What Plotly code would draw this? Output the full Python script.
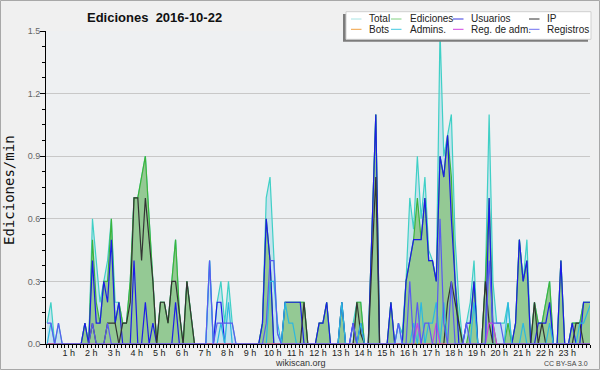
import plotly.graph_objects as go

# ---------------- data (edits per minute, 10-minute bins, 2016-10-22) ----------------
total = [
    0.1, 0.2, 0, 0.1, 0, 0, 0, 0, 0, 0, 0.1, 0,
    0.6, 0.4, 0.2, 0.3, 0.4, 0.6, 0.2, 0.2, 0.1, 0.1, 0.3, 0.7,
    0.7, 0.8, 0.9, 0.6, 0.3, 0, 0.2, 0.2, 0.1, 0.3, 0.5, 0.15,
    0, 0.3, 0.15, 0, 0, 0, 0, 0.4, 0, 0.2, 0.3, 0.1,
    0.3, 0.1, 0, 0, 0, 0, 0, 0, 0, 0.1, 0.7, 0.8,
    0.4, 0.05, 0, 0.2, 0.2, 0.2, 0.2, 0.2, 0.2, 0, 0, 0,
    0.1, 0.1, 0.2, 0, 0, 0, 0.2, 0, 0, 0.1, 0.2, 0.2,
    0, 0, 0.55, 1.1, 0, 0, 0, 0.2, 0, 0.1, 0.05, 0.3,
    0.7, 0.55, 0.9, 0.6, 0.8, 0.45, 0.4, 0.3, 1.5, 0.9, 1.0, 1.1,
    0.5, 0.2, 0, 0.1, 0.2, 0.4, 0, 0, 0.3, 1.1, 0.3, 0.1,
    0.1, 0.1, 0.2, 0, 0.1, 0.5, 0.3, 0.5, 0, 0.2, 0.1, 0.1,
    0.2, 0.3, 0, 0, 0.4, 0, 0, 0.1, 0.1, 0.1, 0.2, 0.2,
    0.2,
]
ediciones = [
    0, 0, 0, 0, 0, 0, 0, 0, 0, 0, 0.1, 0,
    0.5, 0.2, 0.1, 0.3, 0.3, 0.6, 0.1, 0.2, 0.1, 0.1, 0.3, 0.7,
    0.7, 0.8, 0.9, 0.6, 0.3, 0, 0.2, 0.2, 0.1, 0.3, 0.5, 0.15,
    0, 0.3, 0.15, 0, 0, 0, 0, 0, 0, 0, 0, 0,
    0, 0, 0, 0, 0, 0, 0, 0, 0, 0.1, 0.6, 0.4,
    0, 0, 0, 0.2, 0.2, 0.2, 0.2, 0.2, 0.2, 0, 0, 0,
    0.1, 0.1, 0.2, 0, 0, 0, 0.2, 0, 0, 0, 0.2, 0.2,
    0, 0, 0.55, 1.1, 0, 0, 0, 0.2, 0, 0, 0, 0.3,
    0.4, 0.5, 0.7, 0.5, 0.7, 0.4, 0.4, 0.3, 0.9, 0.8, 1.0, 0.8,
    0.3, 0.1, 0, 0, 0.1, 0.3, 0, 0, 0.3, 0.7, 0.1, 0,
    0, 0, 0.1, 0, 0.1, 0.5, 0.3, 0.4, 0, 0.2, 0.1, 0.1,
    0.2, 0.3, 0, 0, 0.4, 0, 0, 0.1, 0.1, 0.1, 0.2, 0.2,
    0.2,
]
usuarios = [
    0, 0, 0, 0, 0, 0, 0, 0, 0, 0, 0.1, 0,
    0.4, 0.1, 0.1, 0.3, 0.2, 0.5, 0.1, 0.2, 0, 0, 0, 0.4,
    0, 0, 0.2, 0, 0.1, 0, 0, 0, 0, 0, 0.2, 0,
    0, 0, 0, 0, 0, 0, 0, 0, 0, 0.2, 0.2, 0,
    0, 0, 0, 0, 0, 0, 0, 0, 0, 0.1, 0.6, 0.4,
    0, 0, 0, 0.2, 0.2, 0.2, 0.2, 0.2, 0, 0, 0, 0,
    0.1, 0.1, 0.2, 0, 0, 0, 0.2, 0, 0, 0.1, 0, 0.1,
    0, 0, 0.55, 1.1, 0, 0, 0, 0.2, 0, 0, 0, 0.3,
    0.4, 0.5, 0.5, 0.5, 0.7, 0.4, 0.4, 0.3, 0.9, 0.8, 1.0, 0.6,
    0.3, 0, 0, 0.1, 0.1, 0.3, 0, 0, 0, 0.7, 0, 0,
    0, 0, 0, 0, 0.1, 0.5, 0.3, 0.4, 0, 0, 0.1, 0.1,
    0.1, 0.2, 0, 0, 0.4, 0, 0, 0.1, 0, 0, 0.2, 0.2,
    0.2,
]
ip = [
    0, 0, 0, 0, 0, 0, 0, 0, 0, 0, 0, 0,
    0.1, 0, 0, 0, 0.1, 0.1, 0.1, 0, 0.1, 0.1, 0.2, 0.7,
    0.7, 0.4, 0.7, 0.5, 0.3, 0, 0.2, 0.2, 0.1, 0.3, 0.3, 0.15,
    0, 0.3, 0.15, 0, 0, 0, 0, 0, 0, 0, 0, 0,
    0, 0, 0, 0, 0, 0, 0, 0, 0, 0, 0, 0,
    0, 0, 0, 0, 0, 0, 0, 0, 0.2, 0, 0, 0,
    0, 0, 0, 0, 0, 0, 0, 0, 0, 0, 0.2, 0.05,
    0, 0, 0.4, 0.8, 0, 0, 0, 0, 0, 0, 0, 0,
    0, 0, 0, 0, 0, 0, 0, 0, 0, 0, 0.2, 0.3,
    0.2, 0.1, 0, 0, 0, 0, 0, 0, 0.3, 0.1, 0, 0,
    0, 0, 0, 0, 0, 0, 0, 0, 0, 0.2, 0, 0.1,
    0, 0, 0, 0, 0, 0, 0, 0, 0.1, 0.1, 0, 0,
    0,
]
bots = [0] * 145
admins = [
    0, 0.1, 0, 0, 0, 0, 0, 0, 0, 0, 0, 0,
    0, 0, 0, 0, 0, 0, 0, 0, 0, 0, 0, 0,
    0, 0, 0, 0, 0, 0, 0, 0, 0, 0, 0, 0,
    0, 0, 0, 0, 0, 0, 0, 0.4, 0, 0, 0.1, 0,
    0.2, 0, 0, 0, 0, 0, 0, 0, 0, 0, 0, 0.3,
    0.3, 0.1, 0, 0.2, 0.1, 0.1, 0, 0, 0, 0, 0, 0,
    0, 0, 0, 0, 0, 0, 0.2, 0, 0, 0, 0, 0.1,
    0, 0, 0, 0, 0, 0, 0, 0, 0, 0.1, 0, 0,
    0, 0.1, 0, 0.2, 0, 0.1, 0.1, 0.2, 0, 0.2, 0, 0,
    0, 0, 0, 0, 0, 0.2, 0, 0, 0, 0, 0, 0,
    0, 0, 0.2, 0, 0, 0, 0.1, 0, 0, 0, 0, 0,
    0, 0.1, 0, 0, 0, 0, 0, 0, 0, 0.1, 0.1, 0.15,
    0.2,
]
reg_adm = [0] * 98 + [0.1, 0, 0, 0, 0, 0.1] + [0] * 13 + [0.1, 0.1] + [0] * 26
registros = [
    0.1, 0.1, 0, 0.1, 0, 0, 0, 0, 0, 0, 0, 0,
    0.1, 0, 0, 0, 0.1, 0, 0, 0, 0, 0, 0, 0,
    0, 0, 0, 0, 0, 0, 0, 0, 0, 0, 0, 0,
    0, 0, 0, 0, 0, 0, 0, 0.4, 0, 0.1, 0.1, 0.1,
    0.1, 0.1, 0, 0, 0, 0, 0, 0, 0, 0, 0.1, 0.4,
    0.4, 0.05, 0, 0, 0, 0, 0, 0, 0, 0, 0, 0,
    0, 0, 0, 0, 0, 0, 0, 0, 0, 0.1, 0, 0,
    0, 0, 0, 0, 0, 0, 0, 0, 0, 0.1, 0, 0,
    0.3, 0, 0.2, 0, 0.1, 0.1, 0, 0, 0.6, 0.1, 0, 0.3,
    0, 0, 0, 0.1, 0, 0, 0, 0, 0, 0.4, 0.1, 0.1,
    0.1, 0, 0, 0, 0, 0, 0, 0, 0, 0, 0, 0,
    0, 0, 0, 0, 0, 0, 0, 0, 0, 0, 0, 0,
    0,
]
# each bin is 10 minutes; points sit slightly inside their bin
hours = [(i + 0.3) / 6 for i in range(len(total))]
hour_ticks = list(range(1, 24))
hour_labels = [f"{h} h" for h in hour_ticks]
y_ticks = [0, 0.3, 0.6, 0.9, 1.2, 1.5]
y_labels = ["0.0", "0.3", "0.6", "0.9", "1.2", "1.5"]

series_names = ["Total", "Ediciones", "Usuarios", "IP", "Bots", "Admins.", "Reg. de adm.", "Registros"]
series_values = [total, ediciones, usuarios, ip, bots, admins, reg_adm, registros]
line_colors = ["#3fd0c6", "#3cb43c", "#1c1ce8", "#333333", "#f0a030", "#2cb8e0", "#d040e0", "#5a5af0"]
legend_colors = ["#a8e4e4", "#80d080", "#3838e0", "#303030", "#f0a040", "#40c8e0", "#d040e0", "#7070f0"]

# ---------------- layout helpers (plot area: x 46..590, y 31..344 px) ----------------
L, R, T, B, W, H = 46, 10, 31, 26, 600, 370
PW, PH = W - L - R, H - T - B


def px(x):
    return (x - L) / PW


def py(y):
    return (H - B - y) / PH


fig = go.Figure()
for name, vals, col in zip(series_names, series_values, line_colors):
    kw = {}
    if name == "Total":
        kw = dict(fill="tozeroy", fillcolor="rgba(170,218,234,0.6)")
    elif name == "Ediciones":
        kw = dict(fill="tozeroy", fillcolor="#94c994")
    fig.add_trace(go.Scatter(x=hours, y=vals, mode="lines", name=name,
                             line=dict(color=col, width=1.2), showlegend=False, **kw))

fig.update_layout(
    width=W, height=H,
    margin=dict(l=L, r=R, t=T, b=B),
    paper_bgcolor="#f0f0f0", plot_bgcolor="#eef0f2",
    font=dict(family="Liberation Sans, Arial, sans-serif", size=9, color="#222"),
    showlegend=False,
)
fig.update_xaxes(
    range=[0, 24], tickvals=hour_ticks, ticktext=hour_labels,
    ticks="outside", ticklen=3, tickcolor="#000", tickwidth=1,
    ticklabelstandoff=-3,
    showline=True, linecolor="#000", linewidth=1, showgrid=False, zeroline=False,
    minor=dict(tick0=0, dtick=1 / 6, ticks="outside", ticklen=3, tickcolor="#000", showgrid=False),
    tickfont=dict(size=9, color="#222"),
)
fig.update_yaxes(
    range=[0, 1.5], tickvals=y_ticks, ticktext=y_labels,
    ticks="outside", ticklen=5, tickcolor="#000",
    ticklabelstandoff=-2,
    showline=True, linecolor="#000", linewidth=1,
    showgrid=True, gridcolor="#c8c8c8", gridwidth=1, zeroline=False,
    minor=dict(dtick=0.075, ticks="outside", ticklen=3, tickcolor="#000", showgrid=False),
    tickfont=dict(size=9, color="#666"),
)

shapes = [
    # outer border
    dict(type="rect", xref="paper", yref="paper", x0=px(0.5), x1=px(W - 0.5), y0=py(H - 0.5), y1=py(0.5),
         line=dict(color="#a8a8a8", width=1), layer="below"),
    # legend shadow and box
    dict(type="rect", xref="paper", yref="paper", x0=px(343), x1=px(588), y0=py(41.7), y1=py(14),
         fillcolor="#7c7c7c", line=dict(width=0), layer="above"),
    dict(type="rect", xref="paper", yref="paper", x0=px(346), x1=px(591), y0=py(39.3), y1=py(11.7),
         fillcolor="#ffffff", line=dict(color="#cfcfcf", width=1), layer="above"),
]
annotations = [
    dict(text="<b>Ediciones  2016-10-22</b>", xref="paper", yref="paper", x=px(154), y=py(17),
         showarrow=False, xanchor="center", yanchor="middle",
         font=dict(family="Liberation Sans, Arial", size=13, color="#111")),
    dict(text="Ediciones/min", xref="paper", yref="paper", x=px(9), y=py(190), textangle=-90,
         showarrow=False, xanchor="center", yanchor="middle",
         font=dict(family="DejaVu Sans Mono", size=14, color="#111")),
    dict(text="wikiscan.org", xref="paper", yref="paper", x=px(300), y=py(362.5),
         showarrow=False, xanchor="center", yanchor="middle",
         font=dict(family="Liberation Sans, Arial", size=9, color="#333")),
    dict(text="CC BY-SA 3.0", xref="paper", yref="paper", x=px(590), y=py(363),
         showarrow=False, xanchor="right", yanchor="middle",
         font=dict(family="Liberation Sans, Arial", size=7, color="#444")),
]
sw_x = [351, 391, 453, 529]
tx_x = [366.5, 407.5, 469, 544.5]
row_y = [19, 29.3]
for k, (name, col) in enumerate(zip(series_names, legend_colors)):
    c, r = k % 4, k // 4
    shapes.append(dict(type="line", xref="paper", yref="paper", x0=px(sw_x[c]), x1=px(sw_x[c] + 10.5),
                       y0=py(row_y[r]), y1=py(row_y[r]), line=dict(color=col, width=1), layer="above"))
    annotations.append(dict(text=name, xref="paper", yref="paper", x=px(tx_x[c]), y=py(row_y[r]),
                            showarrow=False, xanchor="left", yanchor="middle",
                            font=dict(family="Liberation Sans, Arial", size=10, color="#222")))
fig.update_layout(shapes=shapes, annotations=annotations)

fig.write_html(
    "out.html",
    config={"displayModeBar": False},
    post_script="document.body.style.margin='0';document.body.style.padding='0';"
                "document.body.style.overflow='hidden';",
)
